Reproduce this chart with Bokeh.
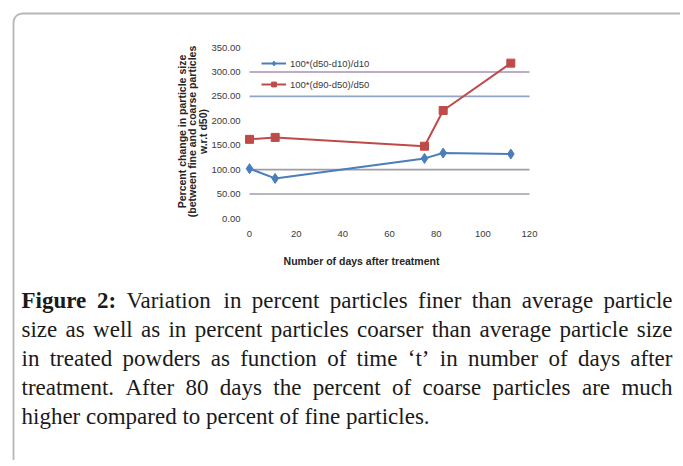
import math
from bokeh.plotting import figure
from bokeh.models import Range1d, Label, BoxAnnotation, Legend, LegendItem
from bokeh.core.properties import value
from bokeh.embed import file_html
from bokeh.resources import INLINE

# ---- data ----
days = [0, 11, 75, 83, 112]
fine_change = [102, 82, 123, 134, 132]
coarse_change = [162, 166, 148, 221, 318]
series_names = ["100*(d50-d10)/d10", "100*(d90-d50)/d50"]
x_ticks = [0, 20, 40, 60, 80, 100, 120]
y_ticks = [0, 50, 100, 150, 200, 250, 300, 350]
grid_levels = [50, 100, 250, 300]
grid_colors = ["#a498b6", "#a09ca8", "#8fa4c6", "#a690b4"]
x_title = "Number of days after treatment"
y_title = "Percent change in particle size\n(between fine and coarse particles\nw.r.t d50)"
caption_bold = "Figure 2:"
caption_lines = [
    "Figure 2: Variation in percent particles finer than average particle",
    "size as well as in percent particles coarser than average particle size",
    "in treated powders as function of time \u2018t\u2019 in number of days after",
    "treatment. After 80 days the percent of coarse particles are much",
    "higher compared to percent of fine particles.",
]

BLUE = "#4a7ebb"
RED = "#be4b48"

# ---- layout (canvas pixels) ----
W, H = 680, 460
PX_L, PX_R, PX_T, PX_B = 249, 529, 47, 218       # chart plot area
xs = (PX_R - PX_L) / (x_ticks[-1] - x_ticks[0])
ys = (PX_B - PX_T) / (y_ticks[-1] - y_ticks[0])
x_range = Range1d(x_ticks[0] - PX_L / xs, x_ticks[-1] + (W - PX_R) / xs)
y_range = Range1d(y_ticks[0] - (H - PX_B) / ys, y_ticks[-1] + PX_T / ys)

p = figure(width=W, height=H, x_range=x_range, y_range=y_range,
           x_axis_location=None, y_axis_location=None, min_border=0,
           output_backend="svg", toolbar_location=None)
p.outline_line_color = None
p.background_fill_color = "white"
p.border_fill_color = "white"
p.grid.visible = False

# gridlines across the plot area
p.segment(x0=[x_ticks[0]] * len(grid_levels), x1=[x_ticks[-1]] * len(grid_levels),
          y0=grid_levels, y1=grid_levels, line_color=grid_colors, line_width=1.6)

# tick labels
p.text(x=x_ticks, y=[y_ticks[0]] * len(x_ticks), text=[str(v) for v in x_ticks],
       y_offset=15, text_align="center", text_baseline="middle",
       text_font=value("Liberation Sans"), text_font_size="9.5px", text_color="#3a3a3a")
p.text(x=[x_ticks[0]] * len(y_ticks), y=y_ticks, text=[f"{v:.2f}" for v in y_ticks],
       x_offset=-9, text_align="right", text_baseline="middle",
       text_font=value("Liberation Sans"), text_font_size="9.5px", text_color="#3a3a3a")

# series
l1 = p.line(days, fine_change, line_color=BLUE, line_width=2)
m1 = p.scatter(days, fine_change, marker="diamond", size=10, fill_color=BLUE, line_color=BLUE)
l2 = p.line(days, coarse_change, line_color=RED, line_width=2)
m2 = p.scatter(days, coarse_change, marker="square", size=8, fill_color=RED, line_color=RED)

legend = Legend(items=[LegendItem(label=series_names[0], renderers=[l1, m1]),
                       LegendItem(label=series_names[1], renderers=[l2, m2])],
                location=(261, H - 90), orientation="vertical",
                glyph_width=25, glyph_height=12, label_height=12, spacing=9,
                padding=0, margin=0, label_standoff=4,
                label_text_font="Liberation Sans", label_text_font_size="9.5px",
                label_text_color="#3a3a3a",
                border_line_color=None, background_fill_alpha=0)
p.add_layout(legend, "center")

# axis titles
p.add_layout(Label(x=192, y=131, x_units="canvas", y_units="canvas", text=y_title,
                   angle=math.pi / 2, text_align="center", text_baseline="middle",
                   text_font="Liberation Sans", text_font_style="bold",
                   text_font_size="10.5px", text_color="#262626", text_line_height=0.9))
p.add_layout(Label(x=361, y=260, x_units="canvas", y_units="canvas", text=x_title,
                   text_align="center", text_baseline="middle",
                   text_font="Liberation Sans", text_font_style="bold",
                   text_font_size="10.5px", text_color="#262626"))

# border box
p.add_layout(BoxAnnotation(left=13, top=13, right=760, bottom=560,
                           left_units="canvas", right_units="canvas",
                           top_units="canvas", bottom_units="canvas",
                           fill_alpha=0, line_color="#111111", line_width=1.8,
                           border_radius=9, editable=False))

# caption, justified by Times/Liberation Serif metrics
REG = {' ': 250, 'a': 444, 'b': 500, 'c': 444, 'd': 500, 'e': 444, 'f': 333, 'g': 500,
       'h': 500, 'i': 278, 'j': 278, 'k': 500, 'l': 278, 'm': 778, 'n': 500, 'o': 500,
       'p': 500, 'q': 500, 'r': 333, 's': 389, 't': 278, 'u': 500, 'v': 500, 'w': 722,
       'x': 500, 'y': 500, 'z': 444, 'A': 722, 'V': 722, 'F': 556, 'T': 611,
       '.': 250, ',': 250, ':': 278, '\u2018': 333, '\u2019': 333}
BOLD = {' ': 250, 'F': 611, 'i': 278, 'g': 500, 'u': 556, 'r': 444, 'e': 444, ':': 333}
FS = 23
LEFT, RIGHT = 21, 672
BASELINES = [300, 329, 358, 387, 416]


def width(word, bold):
    tab = BOLD if bold else REG
    return sum(tab.get(ch, 500) for ch in word) / 1000 * FS


bold_words = caption_bold.split()
for li, line in enumerate(caption_lines):
    words = line.split()
    flags = [li == 0 and wi < len(bold_words) for wi in range(len(words))]
    widths = [width(w, b) for w, b in zip(words, flags)]
    last = li == len(caption_lines) - 1
    gap = 250 / 1000 * FS if last else (RIGHT - LEFT - sum(widths)) / (len(words) - 1)
    x = LEFT
    for w, b, wd in zip(words, flags, widths):
        p.add_layout(Label(x=x, y=BASELINES[li], x_units="canvas", y_units="canvas",
                           text=w, text_align="left", text_baseline="alphabetic",
                           text_font="Liberation Serif",
                           text_font_style="bold" if b else "normal",
                           text_font_size=f"{FS}px", text_color="#1a1a1a"))
        x += wd + gap

open("out.html", "w").write(file_html(p, INLINE))
